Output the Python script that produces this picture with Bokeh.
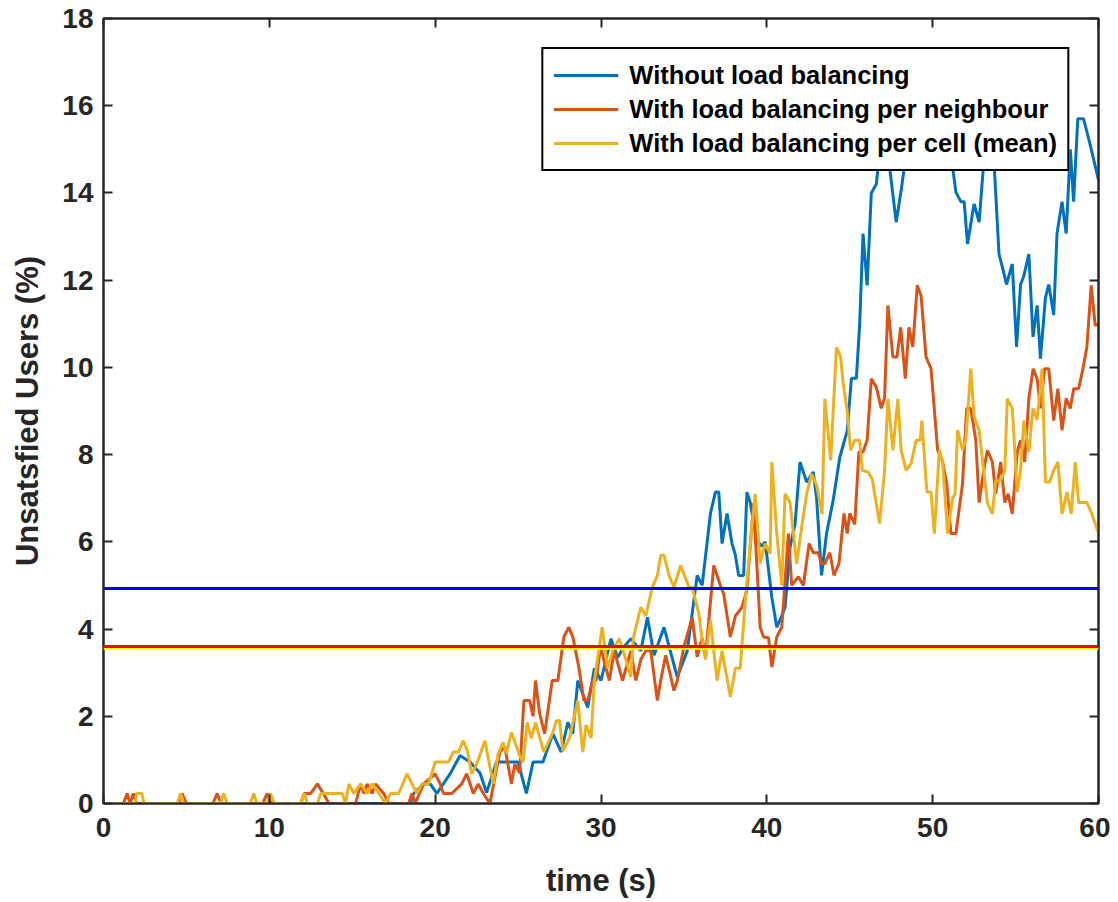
from bokeh.plotting import figure
from bokeh.models import Span, LinearAxis, Range1d, FixedTicker
from bokeh.embed import file_html
from bokeh.resources import INLINE

# ---- data ----
blue_t = [0, 18.5, 18.7, 19.3, 19.7, 20.1, 20.9, 21.5, 22.1, 22.7, 23.1, 23.7, 24.3, 25.0, 25.5, 25.9, 26.5, 27.1, 27.6, 28.0,
          28.3, 28.6, 29.2, 29.6, 30.0, 30.6, 31.0, 31.4, 31.8, 32.4, 32.8, 33.2, 33.8, 34.6, 35.2, 35.8, 36.1, 36.6, 36.9, 37.1,
          37.3, 37.6, 37.9, 38.1, 38.3, 38.6, 38.8, 39.0, 39.4, 39.7, 39.9, 40.3, 40.6, 40.9, 41.1, 41.4, 41.7, 42.0, 42.4, 42.8,
          43.0, 43.3, 43.6, 44.0, 44.4, 44.85, 45.1, 45.4, 45.6, 45.8, 46.05, 46.3, 46.6, 46.8, 47.1, 47.4, 47.8, 48.1, 48.4, 48.8,
          49.3, 49.8, 50.3, 50.8, 51.2, 51.4, 51.7, 51.9, 52.1, 52.5, 52.8, 53.1, 53.4, 53.7, 54.0, 54.3, 54.45, 54.8, 55.06, 55.3,
          55.5, 55.8, 56.05, 56.3, 56.5, 56.8, 57.0, 57.3, 57.5, 57.8, 58.05, 58.3, 58.5, 58.75, 59.1, 59.5, 60.0]
blue_y = [0, 0, 0.23, 0.45, 0.45, 0.23, 0.68, 1.1, 0.95, 0.7, 0.25, 0.95, 0.95, 0.95, 0.23, 0.95, 0.95, 1.6, 1.18, 1.86,
          1.6, 2.82, 2.2, 3.1, 2.82, 3.78, 3.35, 3.6, 3.78, 3.5, 4.27, 3.4, 4.04, 2.9, 3.5, 5.23, 5.0, 6.65, 7.14, 7.14,
          5.96, 6.65, 5.96, 5.7, 5.23, 5.23, 7.14, 6.9, 6.03, 5.9, 6.0, 4.73, 4.04, 4.3, 4.5, 5.88, 6.4, 7.83, 7.37, 7.6,
          7.0, 5.23, 6.19, 6.95, 7.94, 8.55, 9.75, 9.75, 11.0, 13.07, 11.88, 14.0, 14.2, 14.9, 15.0, 14.6, 13.33, 14.06, 14.9, 15.4,
          15.0, 15.7, 15.2, 15.6, 14.6, 14.02, 13.8, 13.8, 12.83, 13.75, 13.33, 14.8, 15.3, 14.7, 12.6, 12.15, 11.9, 12.37, 10.47, 11.9,
          12.1, 12.6, 10.7, 11.42, 10.2, 11.6, 11.9, 11.2, 13.07, 13.8, 13.07, 15.0, 13.8, 15.7, 15.7, 15.1, 14.3]

red_t = [0, 1.2, 1.43, 1.6, 1.8, 2.0, 4.5, 4.74, 5.0, 6.6, 6.85, 7.1, 9.6, 9.87, 10.1, 11.9, 12.1, 12.5, 12.9, 13.3,
         13.6, 15.2, 15.5, 15.7, 15.9, 16.2, 16.4, 16.9, 17.2, 18.4, 18.6, 18.8, 19.3, 20.0, 20.3, 20.5, 21.0, 21.6, 21.9, 22.3,
         22.6, 22.9, 23.3, 23.9, 24.2, 24.6, 24.8, 25.1, 25.35, 25.7, 25.9, 26.05, 26.3, 26.6, 27.06, 27.4, 27.76, 28.06, 28.3, 28.66,
         28.97, 29.2, 29.5, 29.7, 29.97, 30.5, 30.8, 31.3, 31.8, 32.1, 32.4, 32.7, 33.0, 33.4, 33.6, 33.9, 34.4, 34.6, 35.0, 35.5,
         35.8, 36.1, 36.3, 36.8, 37.2, 37.4, 37.8, 38.1, 38.5, 38.8, 39.2, 39.6, 39.8, 40.1, 40.3, 40.6, 40.9, 41.3, 41.5, 41.9,
         42.2, 42.55, 42.8, 43.1, 43.3, 43.5, 43.8, 44.05, 44.35, 44.65, 44.85, 45.0, 45.3, 45.55, 45.8, 46.05, 46.3, 46.6, 46.9, 47.1,
         47.3, 47.6, 47.85, 48.07, 48.35, 48.57, 48.8, 49.07, 49.3, 49.6, 49.9, 50.3, 50.6, 50.85, 51.1, 51.4, 51.8, 52.05, 52.3, 52.6,
         52.8, 53.05, 53.3, 53.6, 53.8, 54.1, 54.35, 54.55, 54.8, 55.1, 55.3, 55.55, 55.8, 56.06, 56.3, 56.5, 56.75, 57.0, 57.3, 57.55,
         57.8, 58.05, 58.3, 58.5, 58.8, 59.06, 59.3, 59.56, 59.8, 60.0]
red_y = [0, 0, 0.23, 0, 0.23, 0, 0, 0.23, 0, 0, 0.23, 0, 0, 0.23, 0, 0, 0.23, 0.23, 0.45, 0.2,
         0, 0, 0.45, 0.23, 0.45, 0.23, 0.45, 0.23, 0, 0, 0.23, 0, 0.45, 0.68, 0.45, 0.23, 0.23, 0.45, 0.68, 0.23,
         0.45, 0.23, 0, 1.18, 1.3, 0.45, 0.9, 0.7, 2.36, 2.36, 2.0, 2.82, 2.06, 1.6, 2.82, 2.82, 3.82, 4.04, 3.82, 3.13,
         2.36, 2.36, 2.82, 2.82, 3.59, 2.82, 3.5, 2.82, 3.5, 2.82, 3.3, 3.5, 3.5, 2.36, 2.82, 3.4, 2.59, 2.82, 3.59, 4.27,
         3.36, 3.8, 3.36, 5.46, 5.0, 4.8, 3.82, 4.3, 4.5, 4.9, 6.88, 4.04, 3.82, 3.8, 3.13, 3.82, 4.04, 6.19, 5.0, 5.2,
         5.0, 5.96, 5.75, 5.75, 5.5, 5.5, 5.75, 5.23, 5.5, 6.65, 6.19, 6.65, 6.4, 8.06, 8.06, 8.33, 9.74, 9.55, 9.06, 9.3,
         11.42, 10.24, 10.24, 10.92, 9.74, 10.92, 10.47, 11.88, 11.65, 10.24, 9.97, 8.1, 7.83, 7.33, 6.19, 6.19, 7.33, 9.06, 9.06, 8.33,
         6.9, 7.56, 8.1, 7.83, 7.1, 7.83, 6.9, 7.1, 6.64, 8.06, 8.33, 7.83, 9.29, 9.97, 9.74, 9.06, 9.97, 9.97, 8.78, 9.51,
         8.56, 9.29, 9.06, 9.51, 9.51, 9.97, 10.47, 11.88, 10.96, 11.0]

yel_t = [0, 1.9, 2.0, 2.3, 2.45, 4.45, 4.64, 4.85, 7.05, 7.25, 7.45, 8.85, 9.06, 9.25, 9.85, 10.07, 10.3, 11.9, 12.1, 12.3,
         12.9, 13.1, 14.4, 14.6, 14.8, 15.1, 15.5, 15.9, 16.2, 16.6, 17.0, 17.3, 17.8, 18.3, 18.6, 18.9, 19.2, 19.6, 20.0, 20.8,
         21.1, 21.4, 21.7, 21.95, 22.2, 22.5, 23.0, 23.5, 23.8, 24.1, 24.3, 24.6, 25.1, 25.3, 25.55, 25.8, 26.05, 26.55, 27.1, 27.3,
         27.5, 27.7, 28.1, 28.6, 28.9, 29.1, 29.4, 29.6, 30.07, 30.4, 30.7, 31.1, 31.5, 31.8, 31.95, 32.4, 32.7, 33.1, 33.4, 33.6,
         33.8, 34.1, 34.4, 34.8, 35.3, 35.5, 35.9, 36.1, 36.3, 36.6, 37.0, 37.3, 37.8, 38.1, 38.4, 38.7, 39.1, 39.3, 39.6, 39.9,
         40.2, 40.3, 40.6, 40.9, 41.1, 41.4, 41.8, 42.1, 42.4, 42.7, 43.0, 43.33, 43.5, 43.85, 44.2, 44.45, 44.6, 44.85, 45.05, 45.3,
         45.6, 45.75, 46.1, 46.35, 46.8, 47.1, 47.3, 47.6, 47.9, 48.1, 48.4, 48.7, 49.0, 49.25, 49.35, 49.65, 49.9, 50.1, 50.4, 50.6,
         50.9, 51.2, 51.35, 51.5, 51.8, 52.0, 52.3, 52.5, 52.8, 53.3, 53.6, 53.8, 54.1, 54.35, 54.5, 54.8, 55.1, 55.3, 55.5, 55.8,
         56.05, 56.3, 56.6, 56.8, 57.05, 57.3, 57.55, 57.8, 58.1, 58.35, 58.6, 58.8, 59.3, 59.6, 60.0]
yel_y = [0, 0, 0.23, 0.23, 0, 0, 0.23, 0, 0, 0.23, 0, 0, 0.23, 0, 0, 0.23, 0, 0, 0.23, 0,
         0, 0.23, 0.23, 0, 0.45, 0.23, 0.45, 0.23, 0.45, 0.23, 0, 0.23, 0.23, 0.68, 0.45, 0.23, 0.45, 0.45, 0.95, 0.95,
         1.18, 1.18, 1.44, 1.2, 0.68, 0.9, 1.44, 0.45, 1.15, 1.4, 1.15, 1.63, 1.1, 0.95, 1.86, 1.5, 1.86, 1.18, 1.63, 1.9,
         1.9, 1.2, 1.5, 2.36, 1.18, 1.8, 1.5, 2.82, 4.04, 3.1, 3.5, 3.78, 3.3, 2.9, 3.8, 4.5, 4.3, 4.96, 5.23, 5.69,
         5.69, 5.23, 4.96, 5.46, 4.96, 4.96, 4.35, 3.75, 3.3, 4.2, 2.82, 3.5, 2.44, 3.1, 3.1, 4.66, 6.34, 7.1, 5.5, 5.96,
         5.73, 7.83, 6.19, 5.0, 7.1, 6.9, 5.5, 6.34, 7.1, 7.56, 7.3, 6.64, 9.28, 7.87, 10.46, 10.24, 9.63, 9.0, 8.1, 8.33,
         8.33, 7.64, 7.6, 7.45, 6.42, 7.64, 9.28, 8.1, 9.28, 8.1, 7.64, 7.8, 8.33, 8.33, 8.78, 7.14, 7.14, 6.19, 8.1, 7.83,
         6.19, 7.0, 7.1, 8.56, 8.1, 8.33, 9.97, 8.87, 8.56, 6.9, 6.64, 7.4, 7.4, 7.64, 9.28, 9.06, 7.14, 7.64, 8.78, 8.06,
         9.06, 8.8, 9.97, 7.37, 7.37, 7.64, 7.83, 6.64, 7.14, 6.64, 7.83, 6.9, 6.9, 6.64, 6.19]

threshold_values = [3.56, 3.6, 4.93]          # yellow, red, blue reference levels
threshold_colors = ["#FFFF00", "#FF0000", "#0000FF"]

series_labels = ["Without load balancing", "With load balancing per neighbour", "With load balancing per cell (mean)"]
series_colors = ["#0072BD", "#D95319", "#EDB120"]

x_ticks = [0, 10, 20, 30, 40, 50, 60]
y_ticks = [0, 2, 4, 6, 8, 10, 12, 14, 16, 18]

FONT = "Liberation Sans"
AX = "#262626"

p = figure(width=1110, height=900, output_backend="svg", toolbar_location=None,
           x_range=Range1d(0, 60), y_range=Range1d(0, 18),
           min_border_left=103, min_border_right=12, min_border_top=18, min_border_bottom=97,
           background_fill_color="white", border_fill_color="white")
p.grid.visible = False
p.outline_line_color = AX
p.outline_line_width = 2

for t, y, lab, col in zip([blue_t, red_t, yel_t], [blue_y, red_y, yel_y], series_labels, series_colors):
    p.line(t, y, line_color=col, line_width=3, legend_label=lab)

for v, c in zip(threshold_values, threshold_colors):
    p.add_layout(Span(location=v, dimension="width", line_color=c, line_width=3))

def style_axis(ax, labels=True):
    ax.axis_line_color = AX
    ax.axis_line_width = 2
    ax.major_tick_line_color = AX
    ax.major_tick_line_width = 2
    ax.major_tick_in = 9
    ax.major_tick_out = 0
    ax.minor_tick_line_color = None
    ax.major_label_text_font = FONT
    ax.major_label_text_font_style = "bold"
    ax.major_label_text_color = AX if labels else None
    ax.major_label_text_font_size = "28px" if labels else "0px"
    ax.axis_label_text_font = FONT
    ax.axis_label_text_font_style = "bold"
    ax.axis_label_text_font_size = "31px"
    ax.axis_label_text_color = AX

p.xaxis.ticker = FixedTicker(ticks=x_ticks)
p.yaxis.ticker = FixedTicker(ticks=y_ticks)
style_axis(p.xaxis[0])
style_axis(p.yaxis[0])
p.xaxis.axis_label = "time (s)"
p.yaxis.axis_label = "Unsatsfied Users (%)"
p.xaxis.major_label_standoff = 14
p.yaxis.major_label_standoff = 10
p.xaxis.axis_label_standoff = 23
p.yaxis.axis_label_standoff = 14

top = LinearAxis(ticker=FixedTicker(ticks=x_ticks))
right = LinearAxis(ticker=FixedTicker(ticks=y_ticks))
style_axis(top, labels=False)
style_axis(right, labels=False)
p.add_layout(top, "above")
p.add_layout(right, "right")

lg = p.legend[0]
lg.location = "top_right"
lg.margin = 29
lg.border_line_color = "black"
lg.border_line_alpha = 1
lg.border_line_width = 2
lg.background_fill_color = "white"
lg.background_fill_alpha = 1
lg.label_text_font = FONT
lg.label_text_font_style = "bold"
lg.label_text_font_size = "25.5px"
lg.label_text_color = "black"
lg.glyph_width = 65
lg.glyph_height = 32
lg.label_height = 32
lg.label_standoff = 11
lg.padding = 10
lg.spacing = 2

open("out.html", "w").write(file_html(p, INLINE))
